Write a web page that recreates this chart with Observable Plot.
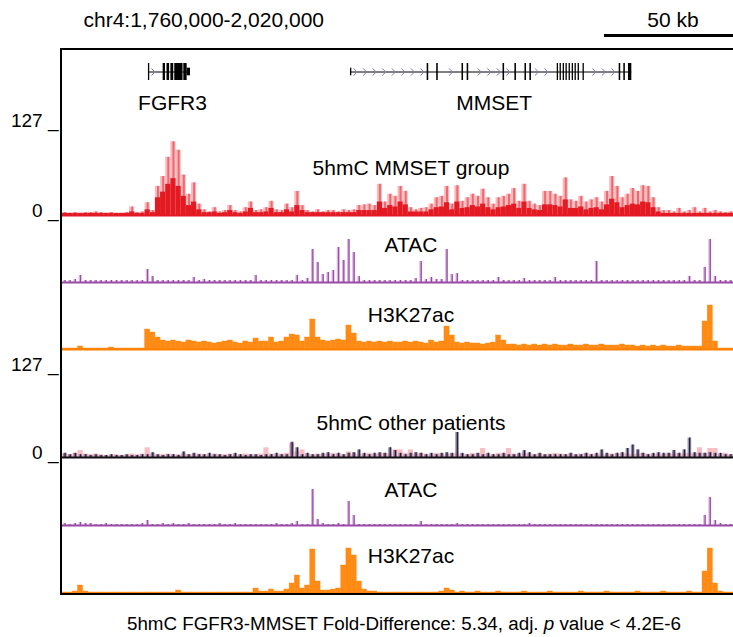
<!DOCTYPE html>
<html><head><meta charset="utf-8">
<script src="https://cdn.jsdelivr.net/npm/d3@7"></script>
<script src="https://cdn.jsdelivr.net/npm/@observablehq/plot@0.6"></script>
<style>
body{margin:0;background:#fff;font-family:"Liberation Sans",Arial,Helvetica,sans-serif;}
#fig{position:relative;width:733px;height:637px;overflow:hidden;background:#fff;}
#fig > div.trk{position:absolute;left:0;}
#frame{position:absolute;left:60px;top:48px;width:700px;height:547px;border:2px solid #000;border-right:none;box-sizing:border-box;pointer-events:none}
#caption{position:absolute;top:613px;left:0;width:808px;text-align:center;font-size:18.8px;color:#000}
</style></head><body><div id="fig"><div id="frame"></div><div id="caption">5hmC FGFR3-MMSET Fold-Difference: 5.34, adj. <i>p</i> value &lt; 4.2E-6</div></div>
<script>
// ---------- data ----------
const chromLabel = "chr4:1,760,000-2,020,000";
const regionStart = 1760000, regionEnd = 2020000;
const binSize = 2000;
const scaleBar = {start: 1970000, end: 2020000, label: "50 kb"};
const hmcTicks = [0, 127];
const trackLabels = ["5hmC MMSET group", "ATAC", "H3K27ac", "5hmC other patients", "ATAC", "H3K27ac"];

const geneNames = ["FGFR3", "MMSET"];
const geneStarts = [1793300, 1871600];
const geneEnds = [1809600, 1980600];
const fgfr3Exons = [[1793300,1793800,"cds"],[1799000,1799900,"cds"],[1800500,1801500,"cds"],[1802000,1803100,"cds"],[1803500,1806700,"cds"],[1807000,1808300,"cds"],[1808300,1809600,"utr"]];
const mmsetExons = [[1871600,1872100,"utr"],[1901300,1901900,"cds"],[1905000,1905600,"cds"],[1914800,1915400,"cds"],[1916800,1917400,"cds"],[1930700,1931300,"cds"],[1935300,1935900,"cds"],[1939200,1939800,"cds"],[1941100,1941700,"cds"],[1951700,1952200,"cds"],[1952800,1953300,"cds"],[1954000,1954500,"cds"],[1955100,1955600,"cds"],[1956300,1956800,"cds"],[1957500,1958000,"cds"],[1958600,1959100,"cds"],[1959800,1960300,"cds"],[1961700,1962200,"cds"],[1975700,1976300,"cds"],[1977500,1978100,"cds"],[1979300,1980600,"cds"]];

// 5hmC MMSET group (0-127), 2 kb bins
const redMax = [4,3,4,3,4,4,5,4,3,4,3,3,4,
 12,4,5,18,7,41,55,82,104,92,57,30,46,16,8,5,11,5,7,14,7,5,11,19,7,8,11,20,8,7,16,11,34,14,
 7,5,8,5,7,7,5,8,7,8,14,15,16,14,44,19,30,27,41,34,
 11,8,10,11,16,25,27,41,16,42,20,25,30,27,37,25,16,25,27,30,38,20,44,20,16,14,34,34,30,27,53,22,20,27,19,22,25,19,34,55,41,25,30,38,34,42,41,25,
 11,7,7,5,10,5,7,11,5,10,5,7,5,4,5];
const redMean = [3,3,3,3,3,3,3,3,3,3,3,3,3,
 5,3,3,8,4,25,33,44,52,41,27,14,19,8,4,4,5,3,4,7,4,3,5,10,4,4,5,10,4,4,8,5,14,7,
 4,4,4,4,4,4,4,4,4,4,7,7,7,7,19,10,14,12,19,15,
 5,5,5,5,8,11,12,18,8,19,10,11,14,12,16,11,8,11,12,14,16,10,19,10,8,7,15,15,14,12,22,10,10,12,8,10,11,8,15,23,18,11,14,16,15,19,18,11,
 5,3,3,3,3,3,3,3,3,3,3,3,3,3,3];
// ATAC (MMSET group)
const atac1 = [2,2,3,7,2,2,2,2,2,2,2,2,2,2,2,2,
 13,6,2,2,2,2,2,2,2,5,2,3,2,2,
 2,2,2,2,2,2,2,7,2,2,2,2,2,2,2,7,2,4,
 33,20,8,10,12,35,22,43,30,6,
 2,2,2,2,2,2,2,2,2,2,4,21,3,5,3,3,33,8,9,2,2,2,
 2,2,2,2,5,2,2,2,2,4,2,2,2,2,2,5,2,2,2,2,
 2,2,2,21,2,2,2,2,2,2,2,2,2,2,2,2,2,2,2,2,2,6,2,2,15,43,6,2,2,2];
// H3K27ac (MMSET group)
const h3k1 = [1,1,1,3,1,1,1,1,1,2,1,1,1,1,1,1,
 20,17,12,9,8,9,8,7,9,8,7,8,7,6,7,8,9,7,6,8,7,11,8,8,12,7,8,12,15,14,8,12,
 30,12,9,8,9,10,9,24,16,8,
 7,8,7,8,7,8,7,7,8,7,8,7,6,9,7,8,23,14,7,6,7,6,6,5,6,7,
 14,9,5,5,4,5,4,5,4,5,4,5,4,4,5,4,4,5,4,4,5,4,4,4,5,4,4,3,4,3,4,3,4,3,3,4,3,3,3,3,28,44,8,1,1,1];
// 5hmC other patients (0-127): darker overlays and lighter overlays
const otherDark = [6,4,6,4,4,3,4,3,3,4,3,3,4,3,3,4,4,7,4,3,4,4,3,8,4,6,4,4,6,4,
 4,3,4,6,4,3,4,4,3,4,4,6,4,4,22,14,4,6,4,4,6,7,4,6,4,6,7,11,6,4,6,7,6,14,10,
 6,4,6,7,6,4,6,4,6,7,6,36,6,4,4,6,4,6,4,4,6,4,4,6,10,7,
 4,6,4,4,4,4,4,6,4,4,6,4,6,11,6,4,6,7,13,18,11,6,4,6,7,6,6,10,6,11,28,7,6,6,7,6,6,4,4];
const otherLight = [5,4,6,10,5,4,5,4,3,4,4,3,4,5,4,5,14,
 5,4,4,5,4,4,5,4,4,5,4,4,5,4,4,5,4,4,5,4,4,5,14,5,4,5,6,20,8,11,
 5,4,5,4,5,6,5,4,8,5,4,5,6,4,5,6,5,11,11,6,11,
 5,6,5,4,6,5,4,5,6,5,4,6,5,13,5,4,6,5,13,
 5,4,6,5,4,5,4,5,6,5,4,5,4,5,6,5,4,5,4,5,5,6,5,4,5,6,5,4,5,4,6,5,6,5,6,5,
 14,6,13,13,5,6,4];
// ATAC (other patients)
const atac2 = [2,1,2,3,2,2,1,1,2,1,1,1,1,1,1,2,5,
 1,1,2,1,2,1,1,2,1,1,1,1,1,2,1,1,2,1,1,1,1,1,1,1,2,1,1,2,
 4,1,1,36,6,2,1,1,2,1,24,10,1,1,1,1,1,1,1,1,1,1,1,1,4,
 1,1,1,1,1,1,2,1,1,1,1,1,1,1,1,1,1,1,1,1,2,1,1,1,1,1,1,1,1,1,1,1,1,1,1,1,1,1,1,1,1,1,1,1,1,1,1,1,1,1,1,1,1,1,
 10,28,5,2,1,1];
// H3K27ac (other patients)
const h3k2 = [1,1,2,8,2,1,1,1,1,1,1,1,1,1,1,1,1,1,1,1,1,1,3,
 1,1,1,1,1,1,1,1,1,1,1,1,1,1,5,2,2,4,2,2,4,10,18,5,8,44,12,3,3,4,5,28,45,38,12,4,
 2,2,1,1,1,1,1,1,1,1,1,1,1,1,2,5,3,
 1,2,1,1,2,1,1,1,2,1,1,1,1,2,1,1,1,1,2,1,1,1,1,1,2,1,1,1,1,2,1,1,1,1,1,2,1,1,1,1,2,1,1,1,1,2,1,1,
 22,45,10,2,1,1];

// ---------- build ----------
const FONT = "'Liberation Sans', Arial, Helvetica, sans-serif";
const W = 733, ML = 62;
const fig = document.getElementById("fig");
const bins = (a, b) => a.map((v, i) => ({start: regionStart + i * binSize, end: regionStart + (i + 1) * binSize, mid: regionStart + (i + 0.5) * binSize, a: v, b: b ? b[i] : 0}));

function place(svg, top) {
  const d = document.createElement("div");
  d.className = "trk"; d.style.top = top + "px";
  d.appendChild(svg);
  fig.insertBefore(d, document.getElementById("frame"));
}
function base(o) {
  return Plot.plot({width: W, marginLeft: ML, marginRight: 0,
    x: {domain: [regionStart, regionEnd], axis: null},
    style: {fontFamily: FONT, background: "transparent", overflow: "visible", color: "#000"}, ...o});
}
const label = (txt, dy) => Plot.text([txt], {text: d => d, frameAnchor: "top", dy, dx: 13, fontSize: 21, fill: "#000"});
const hmcAxis = Plot.axisY(hmcTicks, {anchor: "left", tickSize: 0, tickPadding: 4, tickFormat: d => `${d} _`, fontSize: 19, dy: -5, label: null, fill: "#000"});

// header
place(base({height: 50, marginTop: 0, marginBottom: 15, y: {domain: [0, 1], axis: null},
  marks: [
    Plot.text([chromLabel], {text: d => d, frameAnchor: "left", dx: 21, dy: 2, textAnchor: "start", fontSize: 21, fill: "#000"}),
    Plot.ruleY([scaleBar], {x1: "start", x2: "end", y: 0, stroke: "#000", strokeWidth: 3}),
    Plot.text([scaleBar], {x: d => (d.start + d.end) / 2, y: 0, dy: -15, dx: 4, text: "label", fontSize: 21, fill: "#000"})
  ]}), 0);

// genes
const genes = geneNames.map((n, i) => ({name: n, start: geneStarts[i], end: geneEnds[i]}));
const exons = [...fgfr3Exons.map(e => ({gene: "FGFR3", start: e[0], end: e[1], kind: e[2]})),
               ...mmsetExons.map(e => ({gene: "MMSET", start: e[0], end: e[1], kind: e[2]}))];
const chevrons = [];
for (const g of genes) {
  for (let p = g.start + 1800; p < g.end - 800; p += 3700) {
    if (!exons.some(e => p > e.start - 1300 && p < e.end + 1300)) chevrons.push({pos: p});
  }
}
const chevronSymbol = {draw(ctx, size) { const s = Math.sqrt(size / Math.PI); ctx.moveTo(-s * 0.45, -s); ctx.lineTo(s * 0.55, 0); ctx.lineTo(-s * 0.45, s); }};
place(base({height: 67, marginTop: 13, marginBottom: 37, y: {domain: [-1, 1], axis: null},
  marks: [
    Plot.ruleY(genes, {x1: "start", x2: "end", y: 0, stroke: "#000", strokeWidth: 1}),
    Plot.dot(chevrons, {x: "pos", y: 0, symbol: chevronSymbol, r: 3.6, stroke: "#7a78c8", fill: "none", strokeWidth: 1}),
    Plot.rect(exons, {x1: "start", x2: "end", y1: d => d.kind === "utr" ? -0.45 : -1, y2: d => d.kind === "utr" ? 0.45 : 1, fill: "#000"}),
    Plot.text(genes, {x: d => (d.start + d.end) / 2, y: -1, dy: 23, dx: 3, text: "name", fontSize: 21, fill: "#000"})
  ]}), 50);

// 5hmC MMSET group
const redBins = bins(redMax, redMean);
place(base({height: 100, marginTop: 8, marginBottom: 2, y: {domain: [0, 127]},
  marks: [
    Plot.rectY(redBins, {x1: "start", x2: "end", y: "a", fill: "#f7a3a7", fillOpacity: 0.75}),
    Plot.ruleX(redBins, {x: "mid", y1: 0, y2: "a", stroke: "#ef6870", strokeWidth: 2}),
    Plot.rectY(redBins, {x1: "start", x2: "end", y: "b", fill: "#e31a22"}),
    Plot.ruleY([0], {stroke: "#e31a22", strokeWidth: 2}),
    hmcAxis,
    label(trackLabels[0], 35)
  ]}), 117);

function atacTrack(arr, top, height, mt, lab, dy) {
  const b = bins(arr);
  place(base({height, marginTop: mt, marginBottom: 1, y: {domain: [0, 60], axis: null},
    marks: [
      Plot.rectY(b, {x1: "start", x2: "end", y: "a", fill: "#d7b3e0", insetLeft: 1.2, insetRight: 1.2}),
      Plot.ruleX(b, {x: "mid", y1: 0, y2: "a", stroke: "#9a4aa6", strokeWidth: 1.2}),
      Plot.ruleY([0], {stroke: "#9a4aa6", strokeWidth: 2}),
      label(lab, dy)
    ]}), top);
}
function h3kTrack(arr, top, height, mt, mb, lab, dy) {
  const b = bins(arr);
  place(base({height, marginTop: mt, marginBottom: mb, y: {domain: [0, 60], axis: null},
    marks: [
      Plot.rectY(b, {x1: "start", x2: "end", y: "a", fill: "#ff8a14", stroke: "#ff8a14", strokeWidth: 0.4}),
      Plot.ruleY([0], {stroke: "#ff8000", strokeWidth: 2}),
      label(lab, dy)
    ]}), top);
}
atacTrack(atac1, 217, 66, 5, trackLabels[1], 15);
h3kTrack(h3k1, 283, 67, 6, 1, trackLabels[2], 18);

// 5hmC other patients
const othBins = bins(otherLight, otherDark);
place(base({height: 108, marginTop: 19, marginBottom: 1, y: {domain: [0, 127]},
  marks: [
    Plot.rectY(othBins, {x1: "start", x2: "end", y: "a", fill: "#f5a3aa", fillOpacity: 0.7}),
    Plot.rectY(othBins, {x1: "start", x2: "end", y: "b", fill: "#6b5b98", fillOpacity: 0.7, insetLeft: 1, insetRight: 0.5}),
    Plot.ruleX(othBins, {x: "mid", y1: 0, y2: "b", stroke: "#222", strokeWidth: 1.2}),
    Plot.ruleY([0], {stroke: "#111", strokeWidth: 2}),
    hmcAxis,
    label(trackLabels[3], 46)
  ]}), 350);

atacTrack(atac2, 458, 68, 7, trackLabels[4], 17);
h3kTrack(h3k2, 526, 69, 7, 2, trackLabels[5], 15);
</script></body></html>
